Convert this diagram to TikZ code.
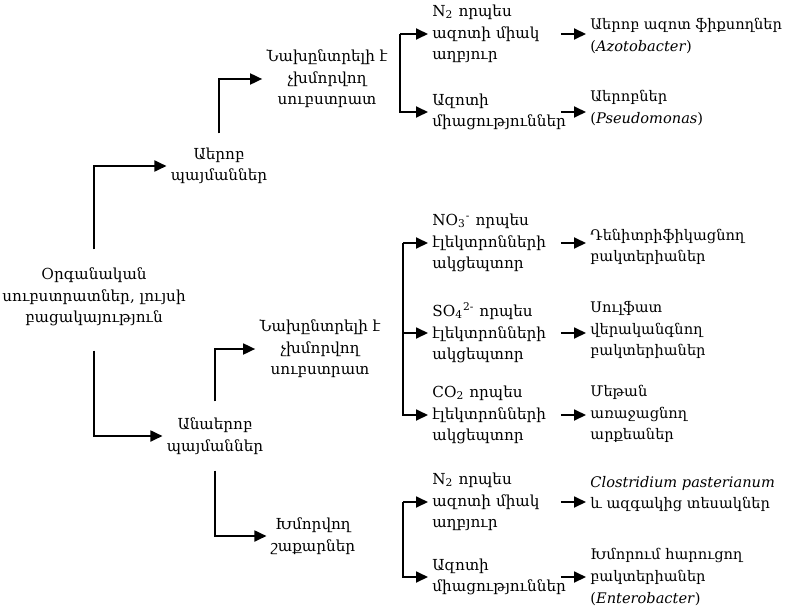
\documentclass[tikz,border=0pt]{standalone}
\usepackage{fontspec}
\setmainfont{DejaVu Serif}
\usetikzlibrary{arrows.meta,positioning}
\tikzset{
  flowarrow/.style={-{Triangle[length=6pt,width=5.5pt]},line width=0.9pt},
  txt/.style={align=center,inner sep=2pt,font=\fontsize{7.6}{10.8}\selectfont},
  leaf/.style={align=left,anchor=west,inner sep=2pt,text width=64pt,font=\fontsize{7.6}{10.8}\selectfont},
  result/.style={align=left,anchor=west,inner sep=2pt,font=\fontsize{7.3}{10.8}\selectfont}
}

\begin{document}
\begin{tikzpicture}[x=0.5pt,y=-0.5pt]
\useasboundingbox (0,0) rectangle (785,610);
% main branches
\node[txt] (root) at (94,297) {Օրգանական\\սուբստրատներ, լույսի\\բացակայություն};
\node[txt] (aer) at (219,166) {Աերոբ\\պայմաններ};
\node[txt] (anaer) at (215,436) {Անաերոբ\\պայմաններ};
\node[txt] (pref1) at (327,79) {Նախընտրելի է\\չխմորվող\\սուբստրատ};
\node[txt] (pref2) at (320,349) {Նախընտրելի է\\չխմորվող\\սուբստրատ};
\node[txt] (ferm) at (313,536) {Խմորվող\\շաքարներ};
% substrates
\node[leaf] (n2a) at (428,34) {N\textsubscript{2} որպես\\ազոտի միակ\\աղբյուր};
\node[leaf] (nca) at (428,112) {Ազոտի\\միացություններ};
\node[leaf] (no3) at (428,243) {NO\textsubscript{3}\textsuperscript{-} որպես\\էլեկտրոնների\\ակցեպտոր};
\node[leaf] (so4) at (428,333) {SO\textsubscript{4}\textsuperscript{2-} որպես\\էլեկտրոնների\\ակցեպտոր};
\node[leaf] (co2) at (428,415) {CO\textsubscript{2} որպես\\էլեկտրոնների\\ակցեպտոր};
\node[leaf] (n2b) at (428,502) {N\textsubscript{2} որպես\\ազոտի միակ\\աղբյուր};
\node[leaf] (ncb) at (428,577) {Ազոտի\\միացություններ};
% organisms
\node[result] (azo) at (586,36) {Աերոբ ազոտ ֆիքսողներ\\(\textit{Azotobacter})};
\node[result] (pse) at (586,108) {Աերոբներ\\(\textit{Pseudomonas})};
\node[result] (den) at (586,247) {Դենիտրիֆիկացնող\\բակտերիաներ};
\node[result] (sul) at (586,330) {Սուլֆատ\\վերականգնող\\բակտերիաներ};
\node[result] (met) at (586,414) {Մեթան\\առաջացնող\\արքեաներ};
\node[result] (clo) at (586,494) {\textit{Clostridium pasterianum}\\և ազգակից տեսակներ};
\node[result] (ent) at (586,577) {Խմորում հարուցող\\բակտերիաներ\\(\textit{Enterobacter})};
\coordinate (brkA) at (400,34);
\coordinate (brkB) at (403,243);
\coordinate (brkC) at (403,502);

\draw[flowarrow,shorten <=7pt] (root.north) |- (aer.west);
\draw[flowarrow,shorten <=10pt] (root.south) |- (anaer.west);
\draw[flowarrow,shorten <=5pt] (aer.north) |- (pref1.west);
\draw[flowarrow,shorten <=6pt] (anaer.north) |- (pref2.west);
\draw[flowarrow,shorten <=6pt] (anaer.south) |- (ferm.west);
\draw[flowarrow] (brkA) -- (n2a.west);
\draw[flowarrow] (brkA) |- (nca.west);
\draw[flowarrow] (brkB) -- (no3.west);
\draw[flowarrow] (brkB) |- (so4.west);
\draw[flowarrow] (brkB) |- (co2.west);
\draw[flowarrow] (brkC) -- (n2b.west);
\draw[flowarrow] (brkC) |- (ncb.west);
\foreach \a/\b in {n2a/azo,nca/pse,no3/den,so4/sul,co2/met,n2b/clo,ncb/ent}
  \draw[flowarrow,shorten <=-2pt] (\a.east) -- (\a.east -| \b.west);
\end{tikzpicture}
\end{document}
